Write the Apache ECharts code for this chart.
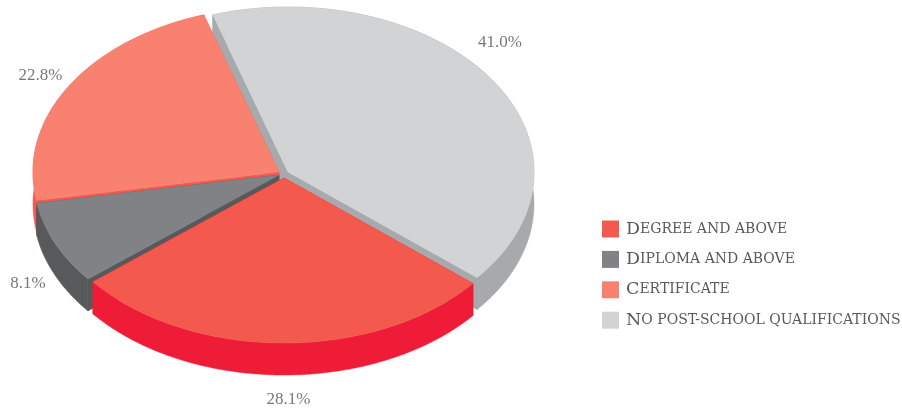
<!DOCTYPE html>
<html>
<head>
<meta charset="utf-8">
<style>html,body{margin:0;padding:0;background:#fff}#chart{width:902px;height:409px}</style>
<script src="https://cdn.jsdelivr.net/npm/echarts@6/dist/echarts.min.js"></script>
</head>
<body>
<div id="chart"></div>
<script>
// Highest qualification shares, clockwise from the lower right of the disc
const categories = ['Degree and above', 'Diploma and above', 'Certificate', 'No post-school qualifications'];
const shares = [28.1, 8.1, 22.8, 41.0];
const topColors = ['#f4594e', '#808285', '#f8826f', '#d1d3d4'];
const wallColors = ['#ee1c37', '#58595b', '#f4594f', '#a7a9ac'];

// Tilted disc geometry
const RX = 246, RY = 165, DEPTH = 32, START_ANGLE = 129.8;
const apexes = [[284, 178], [279, 175], [279, 172], [288, 172]];
const labelShift = [[6, 57], [-27, 40], [-28, -11], [8, -37]];
// Back-to-front painting order
const paintOrder = [3, 2, 1, 0];

const total = shares.reduce((a, b) => a + b, 0);
const bounds = [];
shares.reduce((from, v) => {
  const to = from + v / total * 360;
  bounds.push([from, to]);
  return to;
}, START_ANGLE);

function rim(i, deg, dy) {
  const r = deg * Math.PI / 180;
  return [apexes[i][0] + RX * Math.sin(r), apexes[i][1] - RY * Math.cos(r) + (dy || 0)];
}
function arc(i, dy) {
  const pts = [];
  const [a, b] = bounds[i];
  const n = Math.ceil((b - a) * 2);
  for (let k = 0; k <= n; k++) pts.push(rim(i, a + (b - a) * k / n, dy));
  return pts;
}
function poly(points, fill) {
  return { type: 'polygon', shape: { points }, style: { fill, stroke: fill, lineWidth: 0.5 } };
}
function renderSlice(i) {
  const top = arc(i, 0), low = arc(i, DEPTH);
  const apex = apexes[i], apexLow = [apex[0], apex[1] + DEPTH];
  const wall = wallColors[i];
  const mid = rim(i, (bounds[i][0] + bounds[i][1]) / 2, 0);
  return {
    type: 'group',
    children: [
      poly([apex, top[0], low[0], apexLow], wall),
      poly([apex, top[top.length - 1], low[low.length - 1], apexLow], wall),
      poly(top.concat(low.slice().reverse()), wall),
      poly([apex].concat(top), topColors[i]),
      {
        type: 'text',
        style: {
          text: shares[i].toFixed(1) + '%',
          x: mid[0] + labelShift[i][0],
          y: mid[1] + labelShift[i][1],
          fill: '#77787b',
          font: '17px "Liberation Serif"',
          align: 'center',
          verticalAlign: 'middle'
        }
      }
    ]
  };
}

// Small-caps legend labels built from two text sizes
function smallCaps(name) {
  return name.replace(/[A-Z]+|[^A-Z]+/g, run =>
    /[A-Z]/.test(run) ? '{c|' + run + '}' : '{s|' + run.toUpperCase() + '}');
}
const legendInk = { color: '#58595b', lineHeight: 17 };

const chart = echarts.init(document.getElementById('chart'), null, { renderer: 'canvas' });
chart.setOption({
  animation: false,
  backgroundColor: '#ffffff',
  legend: {
    orient: 'vertical',
    left: 602,
    top: 220,
    padding: 0,
    itemWidth: 17,
    itemHeight: 17,
    itemGap: 12.4,
    icon: 'rect',
    data: categories,
    selectedMode: false,
    formatter: smallCaps,
    textStyle: {
      padding: [0, 0, 0, 2],
      rich: {
        c: Object.assign({ fontFamily: '"DejaVu Serif"', fontSize: 17.5 }, legendInk),
        s: Object.assign({ fontFamily: '"DejaVu Serif"', fontSize: 14 }, legendInk)
      }
    }
  },
  series: paintOrder.map(i => ({
    type: 'custom',
    name: categories[i],
    coordinateSystem: 'none',
    silent: true,
    z: 2 + paintOrder.indexOf(i),
    itemStyle: { color: topColors[i] },
    data: [shares[i]],
    renderItem: () => renderSlice(i)
  }))
});
</script>
</body>
</html>
